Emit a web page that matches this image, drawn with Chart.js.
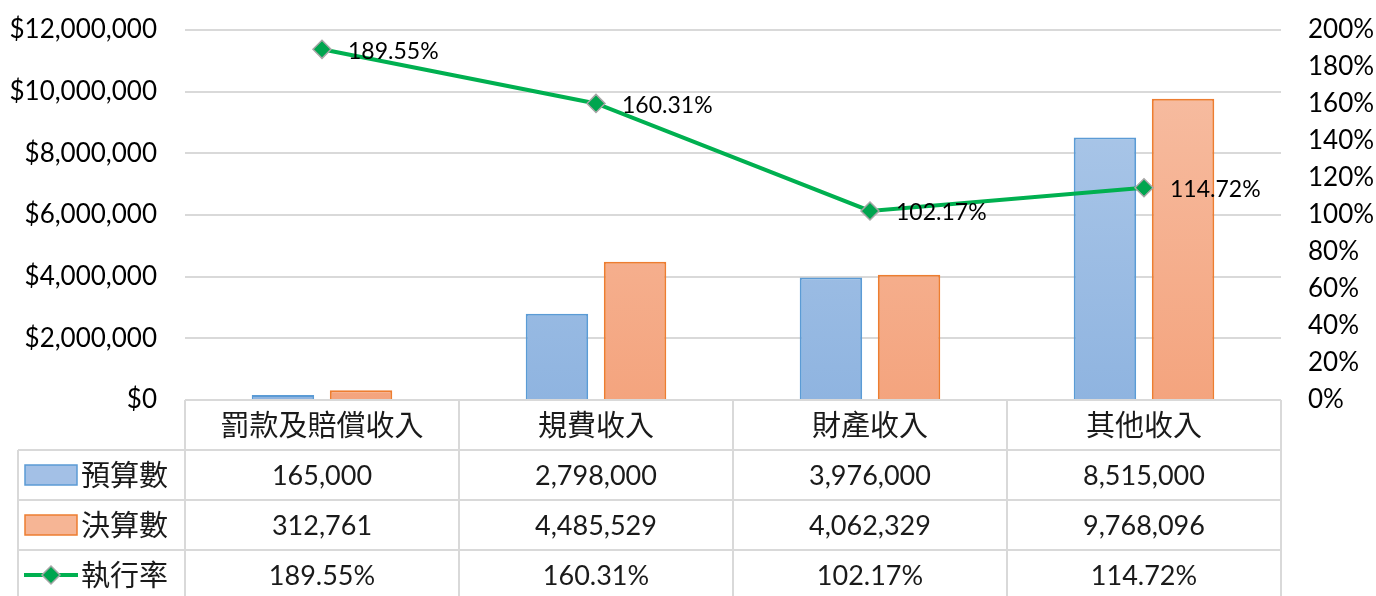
<!DOCTYPE html>
<html>
<head>
<meta charset="utf-8">
<script src="https://cdn.jsdelivr.net/npm/chart.js@4/dist/chart.umd.min.js"></script>
<style>
  html, body { margin: 0; padding: 0; background: #fff; }
  #wrap { width: 1376px; height: 596px; }
</style>
</head>
<body>
<div id="wrap"><canvas id="myChart"></canvas></div>
<script>
const categories = ['罰款及賠償收入', '規費收入', '財產收入', '其他收入'];
const seriesNames = ['預算數', '決算數', '執行率'];
const budget = [165000, 2798000, 3976000, 8515000];
const actual = [312761, 4485529, 4062329, 9768096];
const rate = [189.55, 160.31, 102.17, 114.72];

const FONT = 'Lato, "Noto Sans CJK TC", sans-serif';
const CJK = '"Noto Sans CJK TC", sans-serif';
const gridCol = '#d9d9d9';

function grad(chart, top, bottom) {
    const a = chart.chartArea;
    if (!a) return bottom;
    const g = chart.ctx.createLinearGradient(0, a.top, 0, a.bottom);
    g.addColorStop(0, top);
    g.addColorStop(1, bottom);
    return g;
}

function fitAxis(width) {
    return (s) => {
        s.width = width;
        s.paddingTop = 0;
        s.paddingBottom = 0;
    };
}

// data labels next to the line points
const lineLabels = {
    id: 'lineLabels',
    afterDatasetsDraw(chart) {
        const c = chart.ctx;
        const meta = chart.getDatasetMeta(2);
        c.save();
        c.font = '23px ' + FONT;
        c.fillStyle = '#000';
        c.textBaseline = 'middle';
        c.textAlign = 'left';
        meta.data.forEach((p, i) => {
            c.fillText(rate[i].toFixed(2) + '%', p.x + 26, p.y + 2);
        });
        c.restore();
    }
};

// the data table under the plot
const dataTable = {
    id: 'dataTable',
    afterDraw(chart) {
        const c = chart.ctx;
        const a = chart.chartArea;
        const n = categories.length;
        const w = (a.right - a.left) / n;
        const top = a.bottom;
        const rowH = 50;
        const legL = 18;
        const bottom = top + rowH * 4;
        c.save();
        c.strokeStyle = gridCol;
        c.lineWidth = 2;
        c.beginPath();
        c.moveTo(a.left, top); c.lineTo(a.right, top);
        for (let r = 1; r <= 3; r++) {
            c.moveTo(legL, top + rowH * r); c.lineTo(a.right, top + rowH * r);
        }
        for (let i = 0; i <= n; i++) {
            const x = a.left + w * i;
            c.moveTo(x, top); c.lineTo(x, bottom);
        }
        c.moveTo(legL, top + rowH); c.lineTo(legL, bottom);
        c.stroke();

        c.textBaseline = 'middle';
        c.textAlign = 'center';
        c.fillStyle = '#1a1a1a';
        c.font = '29px ' + CJK;
        categories.forEach((cat, i) => {
            c.fillText(cat, a.left + w * (i + 0.5), top + rowH / 2);
        });
        c.font = '27px ' + FONT;
        const rows = [
            budget.map(v => v.toLocaleString('en-US')),
            actual.map(v => v.toLocaleString('en-US')),
            rate.map(v => v.toFixed(2) + '%')
        ];
        rows.forEach((row, r) => {
            row.forEach((txt, i) => {
                c.fillText(txt, a.left + w * (i + 0.5), top + rowH * (r + 1.5) + 1);
            });
        });
        const keyFill = ['#a3c0e6', '#f6b595'];
        const keyLine = ['#5b9bd5', '#ed7d31'];
        for (let r = 0; r < 3; r++) {
            const cy = top + rowH * (r + 1.5);
            if (r < 2) {
                c.fillStyle = keyFill[r];
                c.fillRect(25, cy - 10, 52, 20);
                c.strokeStyle = keyLine[r];
                c.lineWidth = 1.5;
                c.strokeRect(25, cy - 10, 52, 20);
            } else {
                c.strokeStyle = '#00b050';
                c.lineWidth = 4;
                c.beginPath();
                c.moveTo(24, cy); c.lineTo(78, cy);
                c.stroke();
                c.beginPath();
                c.moveTo(51, cy - 9); c.lineTo(60, cy); c.lineTo(51, cy + 9); c.lineTo(42, cy);
                c.closePath();
                c.fillStyle = '#00a54f';
                c.fill();
                c.strokeStyle = '#a6a6a6';
                c.lineWidth = 1.5;
                c.stroke();
            }
            c.fillStyle = '#1a1a1a';
            c.textAlign = 'left';
            c.font = '29px ' + CJK;
            c.fillText(seriesNames[r], 81, cy);
        }
        c.restore();
    }
};

const ctx = document.getElementById('myChart').getContext('2d');
const myChart = new Chart(ctx, {
    type: 'bar',
    data: {
        labels: categories,
        datasets: [{
            label: seriesNames[0],
            data: budget,
            backgroundColor: (cx) => grad(cx.chart, '#b1cbea', '#8fb4e0'),
            borderColor: '#5b9bd5',
            borderWidth: 2,
            yAxisID: 'y',
            order: 2,
            barPercentage: 0.8,
            categoryPercentage: 0.57
        }, {
            label: seriesNames[1],
            data: actual,
            backgroundColor: (cx) => grad(cx.chart, '#f7c0a6', '#f4a47e'),
            borderColor: '#ed7d31',
            borderWidth: 2,
            yAxisID: 'y',
            order: 2,
            barPercentage: 0.8,
            categoryPercentage: 0.57
        }, {
            type: 'line',
            label: seriesNames[2],
            data: rate,
            yAxisID: 'y1',
            borderColor: '#00b050',
            borderWidth: 4,
            pointStyle: 'rectRot',
            pointRadius: 9,
            pointBackgroundColor: '#00a54f',
            pointBorderColor: '#a6a6a6',
            pointBorderWidth: 1.5,
            tension: 0,
            order: 0
        }]
    },
    options: {
        responsive: true,
        maintainAspectRatio: false,
        animation: false,
        layout: { padding: { top: 30, bottom: 196, left: 0, right: 0 } },
        plugins: {
            legend: { display: false },
            tooltip: { enabled: false }
        },
        scales: {
            x: {
                display: false
            },
            y: {
                position: 'left',
                min: 0,
                max: 12000000,
                afterFit: fitAxis(185),
                ticks: {
                    stepSize: 2000000,
                    padding: 28,
                    color: '#000',
                    font: { family: FONT, size: 26 },
                    callback: (v) => '$' + v.toLocaleString('en-US')
                },
                grid: { color: gridCol, lineWidth: 2, drawTicks: false },
                border: { display: false }
            },
            y1: {
                position: 'right',
                min: 0,
                max: 200,
                afterFit: fitAxis(95),
                ticks: {
                    stepSize: 20,
                    padding: 27,
                    color: '#000',
                    font: { family: FONT, size: 26 },
                    callback: (v) => v + '%'
                },
                grid: { display: false, drawTicks: false },
                border: { display: false }
            }
        }
    },
    plugins: [lineLabels, dataTable]
});
</script>
</body>
</html>
